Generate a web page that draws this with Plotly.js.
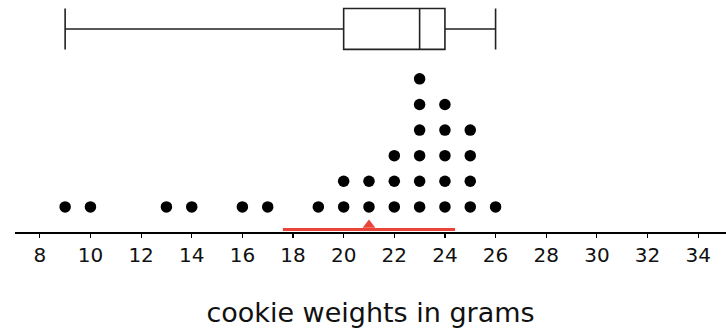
<!DOCTYPE html>
<html>
<head>
<meta charset="utf-8">
<script src="https://cdn.plot.ly/plotly-3.0.1.min.js"></script>
<style>html,body{margin:0;padding:0;background:#fff;}#chart{width:726px;height:329px;}</style>
</head>
<body>
<div id="chart"></div>
<script>
// Dot plot data: weight (g) and number of cookies at that weight
const weights = [9, 10, 13, 14, 16, 17, 19, 20, 21, 22, 23, 24, 25, 26];
const counts  = [1, 1, 1, 1, 1, 1, 1, 2, 2, 3, 6, 5, 4, 1];

// Five-number summary for the box plot
const boxMin = [9];
const boxQ1 = [20];
const boxMedian = [23];
const boxQ3 = [24];
const boxMax = [26];

// Mean and mean absolute deviation
const meanValue = [21];
const madRange = [17.6, 24.4];

const tickValues = [8, 10, 12, 14, 16, 18, 20, 22, 24, 26, 28, 30, 32, 34];
const xTitle = 'cookie weights in grams';

// expand counts into stacked dots
const dotX = [], dotY = [];
weights.forEach((w, i) => {
  for (let k = 1; k <= counts[i]; k++) { dotX.push(w); dotY.push(k); }
});

const traces = [
  {
    type: 'box', orientation: 'h',
    y: [7.95], q1: boxQ1, median: boxMedian, q3: boxQ3,
    lowerfence: boxMin, upperfence: boxMax,
    width: 1.6, whiskerwidth: 1,
    fillcolor: '#ffffff',
    line: {color: '#222222', width: 1.6},
    boxpoints: false, hoverinfo: 'skip', showlegend: false
  },
  {
    type: 'scatter', mode: 'markers', x: dotX, y: dotY,
    marker: {color: '#000000', size: 11.5},
    hoverinfo: 'skip', showlegend: false
  },
  {
    type: 'scatter', mode: 'lines', x: madRange, y: [0.118, 0.118],
    line: {color: '#e8443a', width: 3},
    hoverinfo: 'skip', showlegend: false
  },
  {
    type: 'scatter', mode: 'markers', x: meanValue, y: [0.29],
    marker: {color: '#e8443a', size: 11, symbol: 'triangle-up'},
    hoverinfo: 'skip', showlegend: false
  }
];

const layout = {
  width: 726, height: 329,
  margin: {l: 15, r: 0, t: 0, b: 97},
  paper_bgcolor: '#ffffff', plot_bgcolor: '#ffffff',
  showlegend: false,
  xaxis: {
    range: [7.02, 35.1],
    tickvals: tickValues,
    ticktext: tickValues.map(String),
    ticks: 'outside', ticklen: 4, tickwidth: 1.2, tickcolor: '#000',
    showline: true, linecolor: '#000', linewidth: 1.5,
    showgrid: false, zeroline: false,
    tickfont: {family: 'DejaVu Sans', size: 20, color: '#111'},
    title: {text: xTitle, font: {family: 'DejaVu Sans', size: 27, color: '#111'}, standoff: 37},
    fixedrange: true
  },
  yaxis: {
    range: [0.02, 9.08],
    visible: false, showgrid: false, zeroline: false, fixedrange: true
  }
};

Plotly.newPlot('chart', traces, layout, {staticPlot: true, displayModeBar: false});
</script>
</body>
</html>
